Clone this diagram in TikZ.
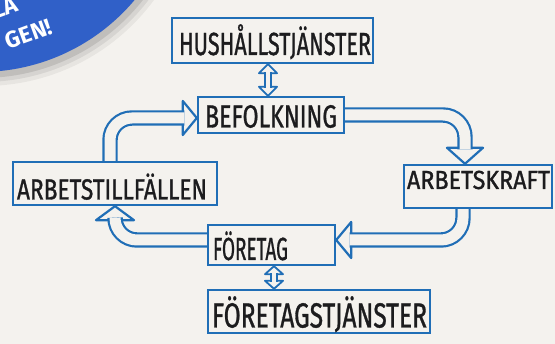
\documentclass[tikz,border=0pt]{standalone}
\usepackage{fontspec}
\setmainfont{Fira Sans}
\newfontface\penfont{Fira Sans}[FakeBold=1.2]
\usepackage{graphicx}
\definecolor{paper}{RGB}{244,242,238}
\definecolor{pen}{RGB}{32,110,182}
\definecolor{ink}{RGB}{28,28,30}
\definecolor{banner}{RGB}{48,96,200}
\newcommand\handtxt[3]{\resizebox{#1}{#2}{\raisebox{0pt}[\fontcharht\font`H][0pt]{#3}}}
\tikzset{
  box/.style={draw=pen, line width=2.4pt, inner sep=0pt},
  txt/.style={text=ink, font=\penfont, inner sep=0pt},
  shaft/.style={draw=pen, line width=2.2pt, double=paper, double distance=11pt, rounded corners=22pt},
  bighead/.style={draw=pen, fill=paper, line width=2.2pt, line join=round},
  sshaft/.style={draw=pen, line width=1.8pt, double=paper, double distance=4.5pt},
  smallhead/.style={draw=pen, fill=paper, line width=1.8pt, line join=round},
  bantxt/.style={text=white, font=\bfseries\fontsize{23}{23}\selectfont, inner sep=0pt, rotate=20}
}
\begin{document}
\begin{tikzpicture}[x=1pt,y=1pt]
\useasboundingbox (0,0) rectangle (555,344);
\clip (0,0) rectangle (555,344);
\fill[paper] (0,0) rectangle (555,344);
% banner
\fill[black,opacity=0.05] (-16,469) circle[radius=211pt];
\fill[black,opacity=0.07] (-17,470) circle[radius=208pt];
\fill[black,opacity=0.10] (-18,471) circle[radius=205pt];
\fill[banner] (-20,474) circle[radius=202pt];
\node[bantxt, anchor=south east] (la) at (20,333) {LA};
\node[bantxt, anchor=south east] (gen) at (54,310) {GEN!};

% boxes
\node[box, minimum width=201pt, minimum height=45pt,
  label={[txt,xshift=2.5pt,yshift=-3.5pt]center:\handtxt{192pt}{22pt}{HUSHÅLLSTJÄNSTER}}] (hush) at (272.5,303.5) {};
\node[box, minimum width=146pt, minimum height=36pt,
  label={[txt,yshift=-1.5pt]center:\handtxt{132pt}{22pt}{BEFOLKNING}}] (bef) at (271,229) {};
\node[box, minimum width=204pt, minimum height=43pt,
  label={[txt,xshift=-3pt,yshift=-6pt]center:\handtxt{190pt}{20pt}{ARBETSTILLFÄLLEN}}] (arbt) at (115,160.5) {};
\node[box, minimum width=148pt, minimum height=43pt,
  label={[txt,xshift=0.5pt,yshift=6.5pt]center:\handtxt{143pt}{18pt}{ARBETSKRAFT}}] (arbk) at (478,157.5) {};
\node[box, minimum width=127pt, minimum height=40pt,
  label={[txt,xshift=-21pt,yshift=-4pt]center:\handtxt{75pt}{22pt}{FÖRETAG}}] (fore) at (271.5,99) {};
\node[box, minimum width=222pt, minimum height=43pt,
  label={[txt,xshift=0.5pt,yshift=-4pt]center:\handtxt{215pt}{24pt}{FÖRETAGSTJÄNSTER}}] (fts) at (319,32.5) {};

% loop arrow 1: Arbetstillfällen -> Befolkning
\coordinate (t1) at ([yshift=-3pt]bef.west);
\filldraw[bighead] (t1) -- ++(-14,17) -- ++(0,-34) -- cycle;
\coordinate (e1) at ([xshift=-12.5pt]t1);
\draw[shaft] ([xshift=-5pt]arbt.north) |- (e1);

% loop arrow 2: Befolkning -> Arbetskraft
\coordinate (t2) at ([xshift=-13pt]arbk.north);
\filldraw[bighead] (t2) -- ++(-18,16) -- ++(36,0) -- cycle;
\coordinate (e2) at ([yshift=14.5pt]t2);
\draw[shaft] (bef.east) -| (e2);

% loop arrow 3: Arbetskraft -> Företag
\coordinate (t3) at ([yshift=5pt]fore.east);
\filldraw[bighead] (t3) -- ++(15,18) -- ++(0,-36) -- cycle;
\coordinate (e3) at ([xshift=13.5pt]t3);
\draw[shaft] ([xshift=-15pt]arbk.south) |- (e3);

% loop arrow 4: Företag -> Arbetstillfällen
\coordinate (t4) at (arbt.south);
\filldraw[bighead] (t4) -- ++(-19,-14) -- ++(38,0) -- cycle;
\coordinate (e4) at ([yshift=-12.5pt]t4);
\draw[shaft] ([yshift=5pt]fore.west) -| (e4);

% double arrow Hushållstjänster <-> Befolkning
\coordinate (h1) at ([xshift=-4.5pt]hush.south);
\coordinate (h2) at ([xshift=-3pt]bef.north);
\filldraw[smallhead] (h1) -- ++(-9,-9) -- ++(18,0) -- cycle;
\filldraw[smallhead] (h2) -- ++(-9,9) -- ++(18,0) -- cycle;
\draw[sshaft] ([yshift=-7.8pt]h1) -- ([yshift=7.8pt]h2);

% double arrow Företag <-> Företagstjänster
\coordinate (f1) at ([xshift=2.5pt]fore.south);
\coordinate (f2) at ([xshift=-45pt]fts.north);
\filldraw[smallhead] (f1) -- ++(-9,-8) -- ++(18,0) -- cycle;
\filldraw[smallhead] (f2) -- ++(-9,8) -- ++(18,0) -- cycle;
\draw[sshaft] ([yshift=-6.8pt]f1) -- ([yshift=6.8pt]f2);
\end{tikzpicture}
\end{document}
